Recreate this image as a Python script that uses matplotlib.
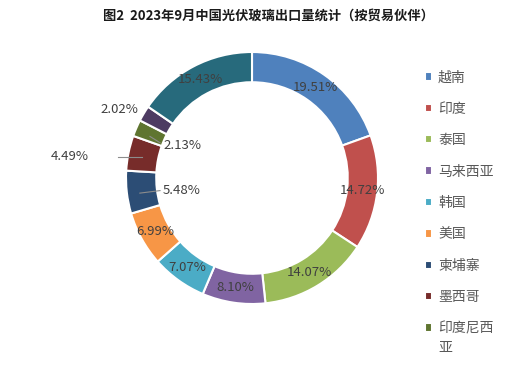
import numpy as np
import matplotlib.pyplot as plt

plt.rcParams['font.family'] = ['Noto Sans CJK SC', 'DejaVu Sans']

# data: share of exports by trading partner (%)
countries = ['越南', '印度', '泰国', '马来西亚', '韩国', '美国', '柬埔寨', '墨西哥', '印度尼西亚',
             '其他国家A', '其他']  # last two are cut off in the original legend
shares = [19.51, 14.72, 14.07, 8.10, 7.07, 6.99, 5.48, 4.49, 2.13, 2.02, 15.43]
colors = ['#4F81BD', '#C0504D', '#9BBB59', '#8064A2', '#4BACC6', '#F79646',
          '#2C4D75', '#772C2A', '#5F7530', '#4D3B62', '#276A7C']
legend_labels = ['越南', '印度', '泰国', '马来西亚', '韩国', '美国', '柬埔寨', '墨西哥', '印度尼西']

fig = plt.figure(figsize=(5.32, 3.74), dpi=100)
R = 126  # outer radius in px
cx, cy = 252, 178
lim = 1.6
ax = fig.add_axes([(cx - R * lim) / 532, (374 - cy - R * lim) / 374,
                   2 * R * lim / 532, 2 * R * lim / 374])

wedges, _ = ax.pie(shares, colors=colors, startangle=90, counterclock=False,
                   radius=1.0, wedgeprops=dict(width=0.24, edgecolor='white', linewidth=1.5))
ax.set_xlim(-lim, lim)
ax.set_ylim(-lim, lim)
ax.axis('off')

# small slices get labels placed off the ring (offset, in data units), with leader lines
outside = {6: (-0.56, -0.10), 7: (-1.45, 0.17), 8: (-0.55, 0.26), 9: (-1.05, 0.54)}
leader = {6: ((-0.89, -0.12), (-0.73, -0.10)),
          7: ((-1.06, 0.17), (-0.87, 0.17)),
          8: ((-0.81, 0.33), (-0.73, 0.28))}

for i, w in enumerate(wedges):
    label = f'{shares[i]:.2f}%'
    if i in outside:
        x, y = outside[i]
    else:
        ang = np.deg2rad((w.theta1 + w.theta2) / 2)
        x, y = 0.88 * np.cos(ang), 0.88 * np.sin(ang)
    ax.text(x, y, label, ha='center', va='center', fontsize=9.5, color='#404040')
    if i in leader:
        (x1, y1), (x2, y2) = leader[i]
        ax.plot([x1, x2], [y1, y2], color='#8C8C8C', lw=0.8)

fig.text(0.505, 0.957, '图2  2023年9月中国光伏玻璃出口量统计（按贸易伙伴）',
         ha='center', va='center', fontsize=9.5, fontweight='bold', color='#1a1a1a')

leg = fig.legend(wedges[:9], legend_labels, loc='upper left', bbox_to_anchor=(0.775, 0.845),
                 frameon=False, fontsize=10, labelcolor='#595959', handlelength=0.55,
                 handleheight=0.55, handletextpad=0.4, labelspacing=1.25)

# the last legend entry wraps onto a second line in the original
fig.canvas.draw()
bb = leg.get_texts()[-1].get_window_extent()
fig.text(bb.x0 / 532, (bb.y0 - 6) / 374, '亚', ha='left', va='top',
         fontsize=10, color='#595959')

fig.savefig('out.png', dpi=100)
